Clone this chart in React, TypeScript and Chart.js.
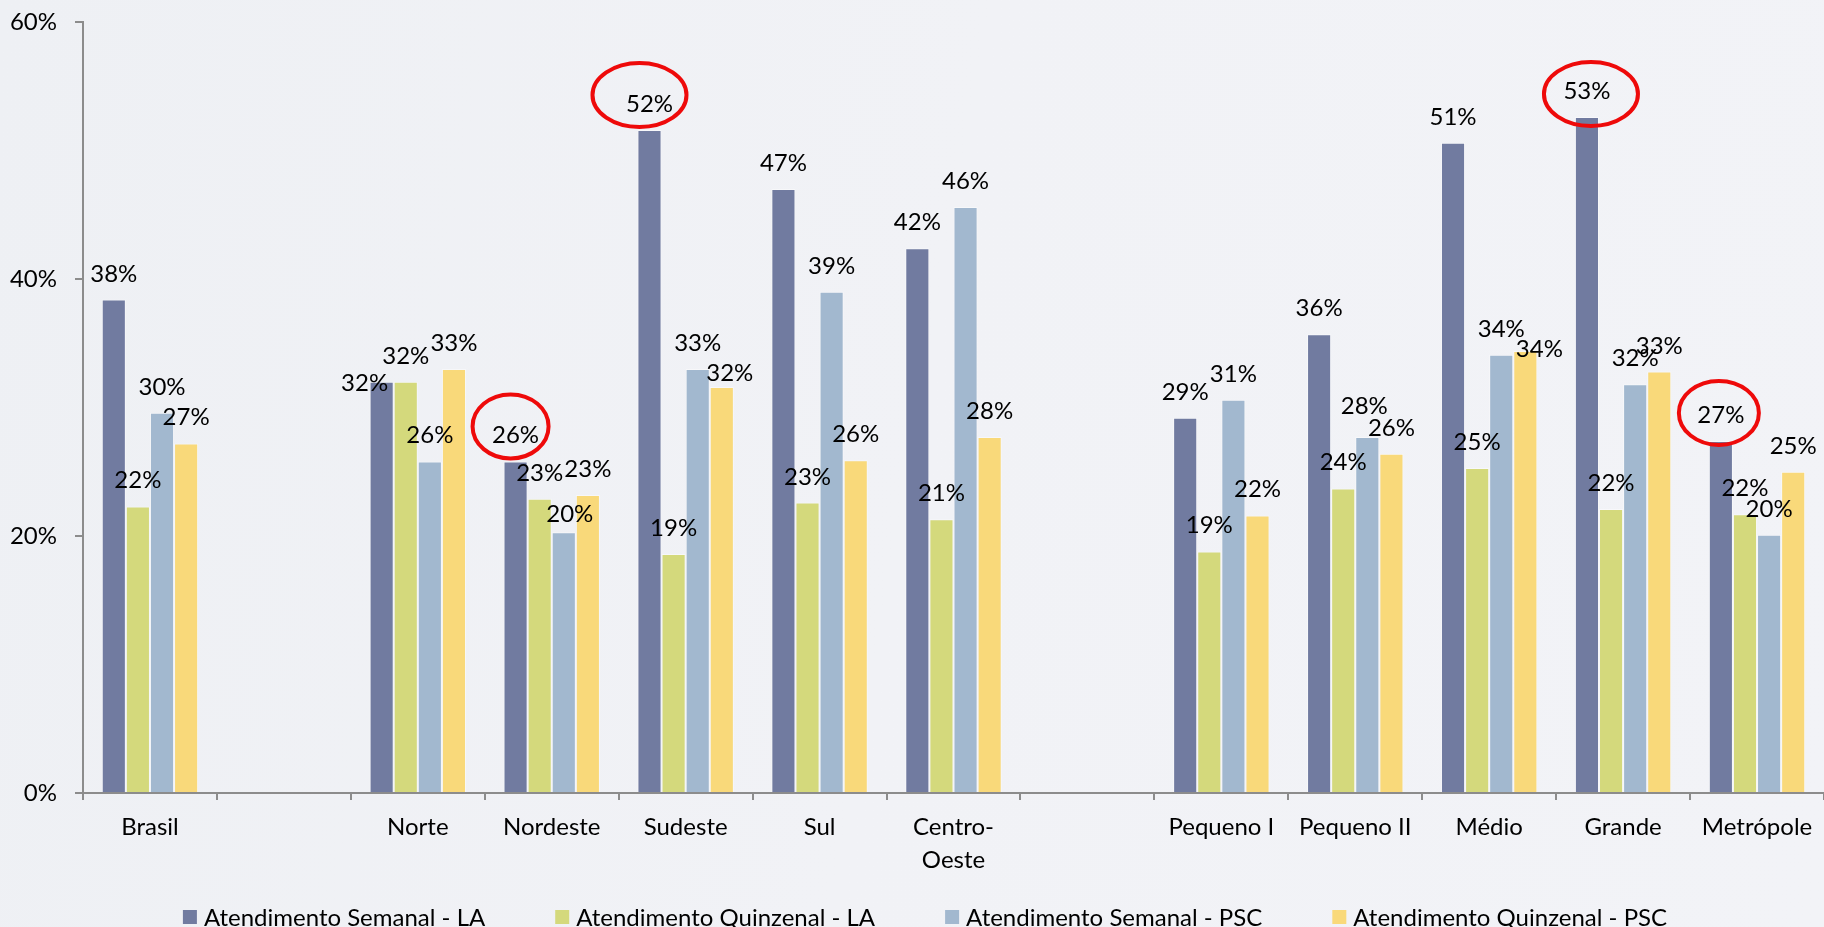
import React, { useEffect, useRef } from "react";
import { Chart, registerables } from "chart.js";

Chart.register(...registerables);

const FONT = "Lato, 'Open Sans', sans-serif";
const FS = 24;

const categories: (string | string[])[] = [
  "Brasil", "", "Norte", "Nordeste", "Sudeste", "Sul", ["Centro-", "Oeste"], "",
  "Pequeno I", "Pequeno II", "Médio", "Grande", "Metrópole",
];

const seriesNames = [
  "Atendimento Semanal - LA",
  "Atendimento Quinzenal - LA",
  "Atendimento Semanal - PSC",
  "Atendimento Quinzenal - PSC",
];

const semanalLA = [38.4, null, 32.0, 25.8, 51.6, 47.0, 42.4, null, 29.2, 35.7, 50.6, 52.6, 27.4];
const quinzenalLA = [22.3, null, 32.0, 22.9, 18.6, 22.6, 21.3, null, 18.8, 23.7, 25.3, 22.1, 21.7];
const semanalPSC = [29.6, null, 25.8, 20.3, 33.0, 39.0, 45.6, null, 30.6, 27.7, 34.1, 31.8, 20.1];
const quinzenalPSC = [27.2, null, 33.0, 23.2, 31.6, 25.9, 27.7, null, 21.6, 26.4, 34.4, 32.8, 25.0];

const seriesColors = ["#717BA0", "#D4D97C", "#A2B8CF", "#F9D97A"];

const yTicks = [0, 20, 40, 60];

// label nudges (pixel offsets from default label spot), as placed in the original
const labelNudges = [
  { cat: 2, series: 0, dx: -17, dy: 27 },
  { cat: 3, series: 2, dx: 6, dy: 8 },
  { cat: 4, series: 3, dx: 8, dy: 12 },
  { cat: 9, series: 2, dx: -3, dy: -5 },
  { cat: 10, series: 3, dx: 14, dy: 24 },
];

// red ellipses drawn around selected labels
const highlights = [
  { cat: 3, series: 0, dx: -5, dy: -8, rx: 38, ry: 32 },
  { cat: 4, series: 0, dx: -10, dy: -8, rx: 47, ry: 32 },
  { cat: 11, series: 0, dx: 4, dy: 4, rx: 47, ry: 32 },
  { cat: 12, series: 0, dx: -2, dy: -1, rx: 40, ry: 32 },
];

const LABEL_RISE = 27;

function labelCenter(chart: any, series: number, cat: number) {
  const bar = chart.getDatasetMeta(series).data[cat];
  const n = labelNudges.find((l) => l.cat === cat && l.series === series);
  return {
    x: bar.x + (n ? n.dx : 0),
    y: bar.y - LABEL_RISE + (n ? n.dy : 0),
  };
}

const valueLabelPlugin = {
  id: "valueLabels",
  afterDatasetsDraw(chart: any) {
    const ctx = chart.ctx;
    ctx.save();
    ctx.font = `${FS}px ${FONT}`;
    ctx.fillStyle = "#000";
    ctx.textAlign = "center";
    ctx.textBaseline = "alphabetic";
    chart.data.datasets.forEach((ds: any, si: number) => {
      ds.data.forEach((v: number | null, ci: number) => {
        if (v == null) return;
        const p = labelCenter(chart, si, ci);
        ctx.fillText(`${Math.round(v)}%`, p.x, p.y + 9);
      });
    });
    ctx.strokeStyle = "#EE0A0A";
    ctx.lineWidth = 4;
    highlights.forEach((h) => {
      const p = labelCenter(chart, h.series, h.cat);
      ctx.beginPath();
      ctx.ellipse(p.x + h.dx, p.y + h.dy, h.rx, h.ry, 0, 0, Math.PI * 2);
      ctx.stroke();
    });
    ctx.restore();
  },
};

const legendPlugin = {
  id: "customLegend",
  afterDraw(chart: any) {
    const ctx = chart.ctx;
    ctx.save();
    ctx.font = `${FS}px ${FONT}`;
    const box = 14;
    const gap = 7;
    const spacing = 70;
    const widths = seriesNames.map((n) => ctx.measureText(n).width);
    const total =
      widths.reduce((a, w) => a + box + gap + w, 0) + spacing * (seriesNames.length - 1);
    let x = chart.width / 2 + 13 - total / 2;
    const y = chart.height - 10;
    ctx.textBaseline = "middle";
    ctx.textAlign = "left";
    seriesNames.forEach((n, i) => {
      ctx.fillStyle = seriesColors[i];
      ctx.fillRect(x, y - box / 2, box, box);
      ctx.fillStyle = "#000";
      ctx.fillText(n, x + box + gap, y + 1);
      x += box + gap + widths[i] + spacing;
    });
    ctx.restore();
  },
};

export default function App() {
  const ref = useRef<HTMLCanvasElement | null>(null);

  useEffect(() => {
    if (!ref.current) return;
    const seriesData = [semanalLA, quinzenalLA, semanalPSC, quinzenalPSC];
    const axisColor = "#8C8C8C";
    const chart = new Chart(ref.current, {
      type: "bar",
      data: {
        labels: categories as any,
        datasets: seriesData.map((d, i) => ({
          label: seriesNames[i],
          data: d as any,
          backgroundColor: seriesColors[i],
          borderColor: "rgba(255,255,255,0.45)",
          borderWidth: 1,
          categoryPercentage: 0.72,
          barPercentage: 1,
        })),
      },
      options: {
        responsive: false,
        animation: false,
        devicePixelRatio: 1,
        layout: { padding: { top: 22, right: 0, bottom: 34, left: 0 } },
        plugins: {
          legend: { display: false },
          tooltip: { enabled: false },
        },
        scales: {
          x: {
            grid: {
              drawOnChartArea: false,
              drawTicks: true,
              tickLength: 7,
              color: axisColor,
              lineWidth: 2,
            },
            border: { color: axisColor, width: 2 },
            ticks: {
              color: "#000",
              font: { family: FONT, size: FS, lineHeight: 1.375 },
              padding: 11,
              maxRotation: 0,
              autoSkip: false,
            },
            afterFit: (s: any) => {
              s.height = 100;
              s.paddingLeft = 0;
              s.paddingRight = 0;
            },
          },
          y: {
            min: 0,
            max: 60,
            afterBuildTicks: (s: any) => {
              s.ticks = yTicks.map((v) => ({ value: v }));
            },
            ticks: {
              color: "#000",
              font: { family: FONT, size: FS },
              padding: 18,
              callback: (v: any) => `${v}%`,
            },
            grid: {
              drawOnChartArea: false,
              drawTicks: true,
              tickLength: 8,
              color: axisColor,
              lineWidth: 2,
            },
            border: { color: axisColor, width: 2 },
            afterFit: (s: any) => {
              s.width = 83;
              s.paddingTop = 0;
              s.paddingBottom = 0;
            },
          },
        },
      },
      plugins: [valueLabelPlugin, legendPlugin],
    });
    return () => chart.destroy();
  }, []);

  return (
    <div
      style={{
        position: "fixed",
        left: 0,
        top: 0,
        width: 1824,
        height: 927,
        background: "linear-gradient(100deg, #EEF0F4 0%, #F1F2F6 50%, #F2F3F7 100%)",
      }}
    >
      <canvas ref={ref} width={1824} height={927} style={{ display: "block" }} />
    </div>
  );
}
